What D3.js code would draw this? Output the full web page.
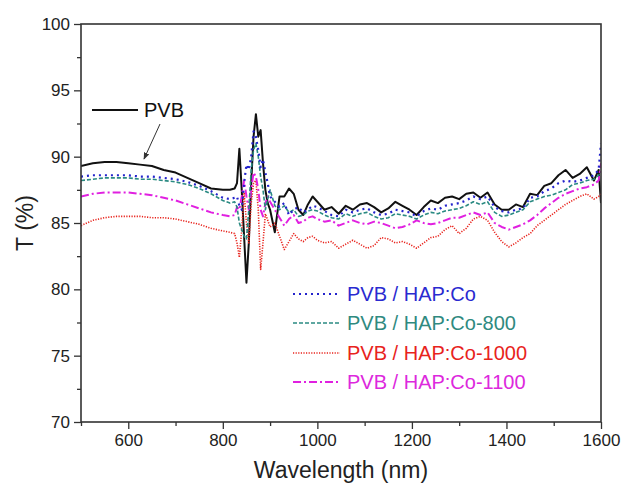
<!DOCTYPE html>
<html>
<head>
<meta charset="utf-8">
<script src="https://cdn.jsdelivr.net/npm/d3@7"></script>
<style>
  body { margin: 0; background: #fff; }
  svg { display: block; font-family: "Liberation Sans", Arial, sans-serif; }
</style>
</head>
<body>
<div id="chart"></div>
<script>
// wavelength grid (nm) shared by all spectra
const wavelengths = [500,525,550,575,600,625,650,675,700,725,750,775,800,815,825,
  830,835,840,845,850,855,860,865,870,875,880,885,890,895,900,
  910,920,930,940,950,960,970,980,990,1000,
  1015,1030,1045,1060,1075,1090,1105,1120,1135,1150,1165,1180,1195,1210,1225,1240,1255,1270,1285,1300,
  1315,1330,1345,1360,1375,1390,1405,1420,1435,1450,1465,1480,1495,1510,1525,1540,1555,1570,1585,1595,1600];

const tPVB = [89.3,89.5,89.6,89.6,89.5,89.4,89.3,89.0,88.8,88.4,88.0,87.6,87.5,87.5,87.6,
  88.0,90.6,87.5,84.0,80.5,83.5,88.0,91.5,93.2,91.5,92.0,89.5,87.5,86.5,86.0,
  84.3,87.0,87.0,87.6,87.2,86.0,85.6,86.4,87.0,86.6,
  86.0,86.2,85.7,86.3,86.0,86.4,86.5,86.2,85.8,86.1,86.6,86.3,86.0,85.6,86.2,86.7,86.5,86.9,87.0,86.8,
  87.2,87.3,86.9,87.3,86.4,86.0,86.0,86.4,86.2,87.2,87.1,87.8,88.0,88.6,89.0,88.4,88.7,89.2,88.2,89.0,86.5];

const tCo = [88.5,88.6,88.6,88.6,88.6,88.5,88.5,88.4,88.3,88.1,87.8,87.4,86.9,86.8,86.9,
  87.0,86.3,86.0,88.0,89.4,89.0,90.0,91.9,91.5,90.5,89.2,89.8,88.8,88.0,87.0,
  86.6,86.2,86.5,85.6,86.0,86.2,85.8,86.0,86.3,86.2,
  85.9,85.6,85.5,86.0,85.8,86.0,86.1,85.8,85.6,85.7,86.0,85.9,85.8,85.5,85.9,86.1,86.0,86.3,86.4,86.5,
  86.7,87.0,86.8,87.0,86.2,85.9,85.8,86.0,86.1,86.9,87.0,87.4,87.6,88.0,88.2,88.1,88.2,88.4,88.6,89.0,91.0];

const tCo800 = [88.2,88.3,88.4,88.4,88.4,88.3,88.3,88.2,88.1,87.9,87.6,87.2,86.7,86.5,86.6,
  86.2,85.0,84.5,84.0,83.8,86.0,89.0,90.5,91.0,90.0,88.5,87.5,86.0,86.8,87.5,
  86.3,86.0,86.3,85.8,86.0,85.5,85.6,85.9,86.0,85.9,
  85.6,85.4,85.3,85.7,85.5,85.7,85.8,85.5,85.3,85.4,85.7,85.6,85.5,85.3,85.6,85.8,85.7,85.9,86.0,86.1,
  86.3,86.6,86.4,86.6,85.8,85.5,85.6,85.8,86.0,86.6,86.8,87.0,87.1,87.3,87.5,87.9,88.0,88.2,88.3,88.6,88.8];

const tCo1000 = [84.8,85.2,85.4,85.5,85.5,85.5,85.4,85.4,85.3,85.1,84.9,84.6,84.4,84.3,84.2,
  83.5,82.4,84.5,87.3,85.0,83.5,86.5,88.0,88.2,86.0,81.5,83.5,85.7,85.2,84.7,
  85.0,84.0,83.0,83.6,84.2,83.8,83.6,83.9,84.0,83.7,
  83.5,83.6,83.1,83.4,83.7,83.4,83.1,83.3,83.9,83.8,83.5,83.6,83.4,83.1,83.5,83.9,84.0,84.5,84.8,84.2,
  84.6,85.3,85.5,85.2,84.3,83.6,83.2,83.5,83.9,84.2,84.8,85.2,85.6,86.0,86.4,86.7,87.0,87.2,86.8,87.0,87.2];

const tCo1100 = [87.0,87.2,87.3,87.3,87.3,87.2,87.1,86.9,86.7,86.4,86.1,85.8,85.6,85.5,85.6,
  86.2,86.0,87.0,88.2,87.0,86.0,87.5,88.8,88.5,87.5,86.0,85.5,86.5,87.0,86.6,
  86.0,85.4,84.8,85.3,85.6,85.0,85.1,85.4,85.5,85.3,
  85.1,85.2,84.8,85.0,85.2,85.0,84.9,85.1,85.0,84.8,84.6,84.7,84.9,85.2,85.0,84.9,85.0,85.2,85.4,85.4,
  85.6,85.8,85.6,85.8,85.0,84.7,84.5,84.7,84.9,85.2,85.6,86.1,86.5,86.9,87.2,87.4,87.6,87.7,87.9,88.2,89.5];

const seriesNames = ["PVB / HAP:Co", "PVB / HAP:Co-800", "PVB / HAP:Co-1000", "PVB / HAP:Co-1100"];
const xTicks = [600, 800, 1000, 1200, 1400, 1600];
const xMinor = [500, 700, 900, 1100, 1300, 1500];
const yTicks = [70, 75, 80, 85, 90, 95, 100];
const yMinor = [72.5, 77.5, 82.5, 87.5, 92.5, 97.5];

const W = 623, H = 484;
const m = { left: 81, right: 22, top: 24, bottom: 62 };

const svg = d3.select("#chart").append("svg")
  .attr("width", W)
  .attr("height", H);

const x = d3.scaleLinear().domain([500, 1600]).range([m.left, W - m.right]);
const y = d3.scaleLinear().domain([70, 100]).range([H - m.bottom, m.top]);

svg.append("clipPath").attr("id", "clip")
  .append("rect")
  .attr("x", m.left).attr("y", m.top)
  .attr("width", W - m.left - m.right)
  .attr("height", H - m.top - m.bottom);

// spectra
const styles = [
  { vals: tPVB, color: "#111", width: 2, dash: null },
  { vals: tCo1000, color: "#e8231c", width: 1.6, dash: "1.2,1.4" },
  { vals: tCo1100, color: "#e020e0", width: 2, dash: "8,3,2,3" },
  { vals: tCo800, color: "#2a8a82", width: 1.6, dash: "4,2" },
  { vals: tCo, color: "#2323cc", width: 2.2, dash: "2,4" }
];

const line = d3.line()
  .x((d, i) => x(wavelengths[i]))
  .y(d => y(d));

const plot = svg.append("g").attr("clip-path", "url(#clip)");
styles.forEach(s => {
  plot.append("path")
    .datum(s.vals)
    .attr("fill", "none")
    .attr("stroke", s.color)
    .attr("stroke-width", s.width)
    .attr("stroke-dasharray", s.dash)
    .attr("stroke-linejoin", "round")
    .attr("d", line);
});

// axes
svg.append("g")
  .attr("transform", `translate(${m.left},0)`)
  .call(d3.axisLeft(y).tickValues(yTicks).tickSize(7).tickPadding(4).tickFormat(d3.format("d")));
svg.append("g")
  .attr("transform", `translate(${m.left},0)`)
  .call(d3.axisLeft(y).tickValues(yMinor).tickSize(4).tickFormat(""));

svg.append("g")
  .attr("transform", `translate(0,${H - m.bottom})`)
  .call(d3.axisBottom(x).tickValues(xTicks).tickSize(7).tickPadding(5).tickFormat(d3.format("d")));
svg.append("g")
  .attr("transform", `translate(0,${H - m.bottom})`)
  .call(d3.axisBottom(x).tickValues(xMinor).tickSize(4).tickFormat(""));

svg.selectAll(".domain").remove();
svg.selectAll(".tick line").attr("stroke", "#333").attr("stroke-width", 1.3);
svg.selectAll(".tick text")
  .attr("fill", "#222")
  .style("font-size", "17px")
  .style("font-family", "'Liberation Sans', Arial, sans-serif");

// frame
svg.append("rect")
  .attr("x", m.left).attr("y", m.top)
  .attr("width", W - m.left - m.right)
  .attr("height", H - m.top - m.bottom)
  .attr("fill", "none")
  .attr("stroke", "#333")
  .attr("stroke-width", 1.6);

// axis titles
svg.append("text")
  .attr("x", (m.left + W - m.right) / 2)
  .attr("y", 478)
  .attr("text-anchor", "middle")
  .attr("fill", "#222")
  .style("font-size", "23px")
  .text("Wavelength (nm)");

svg.append("text")
  .attr("transform", `translate(33, ${y(85)}) rotate(-90)`)
  .attr("text-anchor", "middle")
  .attr("fill", "#222")
  .style("font-size", "23px")
  .text("T (%)");

// PVB annotation
svg.append("defs").append("marker")
  .attr("id", "arrow")
  .attr("viewBox", "0 0 10 10")
  .attr("refX", 9).attr("refY", 5)
  .attr("markerWidth", 7).attr("markerHeight", 7)
  .attr("orient", "auto")
  .append("path")
  .attr("d", "M0,1 L10,5 L0,9 Z")
  .attr("fill", "#333");

svg.append("line")
  .attr("x1", 92).attr("x2", 138)
  .attr("y1", 110).attr("y2", 110)
  .attr("stroke", "#111").attr("stroke-width", 2);
svg.append("text")
  .attr("x", 144).attr("y", 117)
  .attr("fill", "#111")
  .style("font-size", "20px")
  .text("PVB");
svg.append("line")
  .attr("x1", 160).attr("y1", 124)
  .attr("x2", 144).attr("y2", 159)
  .attr("stroke", "#333").attr("stroke-width", 1)
  .attr("marker-end", "url(#arrow)");

// legend
const legendRows = [
  { name: seriesNames[0], color: "#2323cc", width: 2.2, dash: "2,4", text: "#2a2ad0" },
  { name: seriesNames[1], color: "#2a8a82", width: 1.6, dash: "4,2", text: "#2f8a80" },
  { name: seriesNames[2], color: "#e8231c", width: 1.6, dash: "1.2,1.4", text: "#e8231c" },
  { name: seriesNames[3], color: "#e020e0", width: 2, dash: "8,3,2,3", text: "#dd28dd" }
];
const legendY = [294, 323, 353, 382];
const lg = svg.append("g");
legendRows.forEach((r, i) => {
  lg.append("line")
    .attr("x1", 293).attr("x2", 340)
    .attr("y1", legendY[i]).attr("y2", legendY[i])
    .attr("stroke", r.color)
    .attr("stroke-width", r.width)
    .attr("stroke-dasharray", r.dash);
  lg.append("text")
    .attr("x", 347).attr("y", legendY[i] + 7)
    .attr("fill", r.text)
    .style("font-size", "20px")
    .text(r.name);
});
</script>
</body>
</html>
